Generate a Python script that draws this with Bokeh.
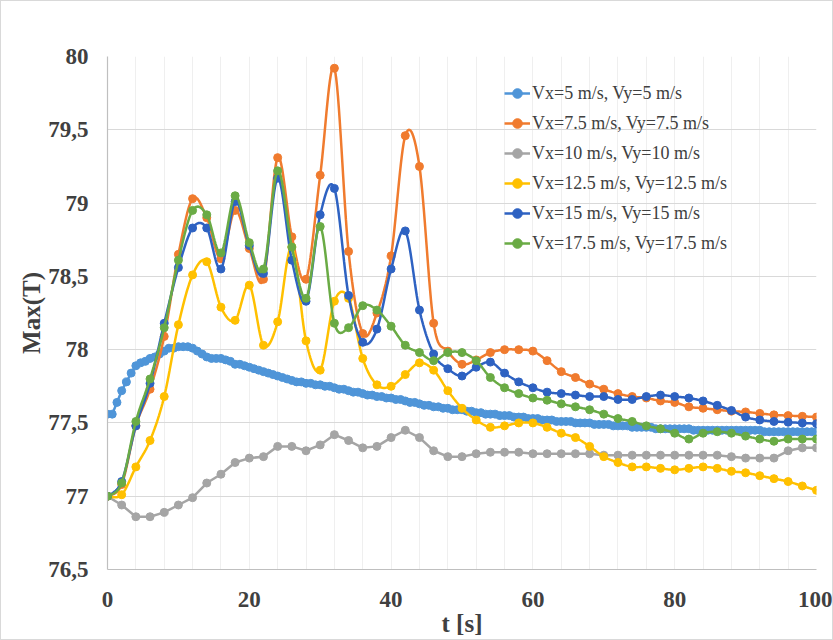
import numpy as np
from bokeh.plotting import figure
from bokeh.models import FixedTicker, Legend, LegendItem, Range1d
from bokeh.embed import file_html
from bokeh.resources import INLINE

# ---------------- data ----------------
t2 = list(range(0, 101, 2))  # samples every 2 s

v5 = [77.56, 77.56, 77.64, 77.72, 77.78, 77.84, 77.89, 77.91, 77.92, 77.94,
      77.95, 77.97, 77.99, 78.01, 78.01, 78.02, 78.02, 78.02, 78.01, 77.99,
      77.97, 77.95, 77.94, 77.94, 77.94, 77.93, 77.92, 77.90, 77.90, 77.89,
      77.88, 77.87, 77.86, 77.85, 77.84, 77.83, 77.82, 77.81, 77.80, 77.79,
      77.78, 77.78, 77.77, 77.77, 77.76, 77.76, 77.75, 77.75, 77.74, 77.73,
      77.73, 77.72, 77.71, 77.71, 77.70, 77.69, 77.69, 77.68, 77.68, 77.67,
      77.67, 77.66, 77.66, 77.65, 77.64, 77.64, 77.63, 77.62, 77.62, 77.61,
      77.61, 77.60, 77.60, 77.59, 77.59, 77.59, 77.58, 77.58, 77.57, 77.57,
      77.56, 77.56, 77.56, 77.55, 77.55, 77.55, 77.54, 77.54, 77.54, 77.53,
      77.53, 77.53, 77.52, 77.52, 77.52, 77.51, 77.51, 77.51, 77.51, 77.50,
      77.50, 77.50, 77.50, 77.49, 77.49, 77.49, 77.49, 77.48, 77.48, 77.48,
      77.48, 77.47, 77.47, 77.47, 77.47, 77.47, 77.46, 77.46, 77.46, 77.46,
      77.46, 77.46, 77.46, 77.46, 77.45, 77.45, 77.45, 77.45, 77.45, 77.45,
      77.45, 77.45, 77.45, 77.45, 77.45, 77.45, 77.45, 77.45, 77.45, 77.44,
      77.44, 77.44, 77.44, 77.44, 77.44, 77.44, 77.44, 77.44, 77.44, 77.44,
      77.44]
t5 = [i * 2.0 / 3.0 for i in range(len(v5))]  # samples every 2/3 s

v75 = [77.00, 77.08, 77.48, 77.73, 78.09, 78.65, 79.03, 78.90, 78.62, 78.95,
       78.69, 78.48, 79.31, 78.77, 78.48, 79.19, 79.92, 78.67, 78.11, 78.25,
       78.64, 79.46, 79.25, 78.18, 77.99, 77.90, 77.93, 77.98, 78.00, 78.00,
       77.99, 77.925, 77.85, 77.81, 77.765, 77.73, 77.70, 77.68, 77.67, 77.65,
       77.64, 77.61, 77.60, 77.59, 77.58, 77.575, 77.565, 77.555, 77.55, 77.545,
       77.54]

v10 = [77.00, 76.94, 76.86, 76.86, 76.89, 76.94, 76.99, 77.09, 77.15, 77.23,
       77.26, 77.27, 77.34, 77.34, 77.31, 77.35, 77.42, 77.38, 77.33, 77.34,
       77.40, 77.45, 77.40, 77.31, 77.27, 77.27, 77.29, 77.30, 77.30, 77.30,
       77.29, 77.29, 77.29, 77.29, 77.29, 77.28, 77.28, 77.28, 77.28, 77.28,
       77.28, 77.28, 77.28, 77.28, 77.27, 77.26, 77.26, 77.26, 77.31, 77.33,
       77.33]

v125 = [77.00, 77.01, 77.20, 77.38, 77.68, 78.17, 78.51, 78.60, 78.29, 78.20,
        78.44, 78.03, 78.19, 78.70, 78.06, 77.86, 78.33, 78.35, 77.94, 77.76,
        77.75, 77.83, 77.91, 77.86, 77.72, 77.60, 77.52, 77.47, 77.48, 77.50,
        77.50, 77.47, 77.43, 77.40, 77.34, 77.27, 77.23, 77.20, 77.20, 77.19,
        77.18, 77.19, 77.20, 77.19, 77.17, 77.16, 77.14, 77.12, 77.10, 77.07,
        77.04]

v15 = [77.00, 77.10, 77.48, 77.77, 78.18, 78.56, 78.83, 78.83, 78.55, 79.01,
       78.71, 78.52, 79.17, 78.61, 78.33, 78.92, 79.10, 78.37, 78.05, 78.14,
       78.55, 78.81, 78.27, 77.97, 77.87, 77.82, 77.88, 77.915, 77.84, 77.78,
       77.74, 77.71, 77.70, 77.69, 77.68, 77.68, 77.66, 77.66, 77.68, 77.69,
       77.68, 77.67, 77.65, 77.62, 77.585, 77.54, 77.52, 77.51, 77.505, 77.50,
       77.495]

v175 = [77.00, 77.09, 77.51, 77.80, 78.15, 78.61, 78.95, 78.92, 78.66, 79.05,
        78.73, 78.55, 79.22, 78.70, 78.35, 78.84, 78.18, 78.15, 78.30, 78.27,
        78.16, 78.03, 77.98, 77.925, 77.98, 77.98, 77.925, 77.81, 77.74, 77.70,
        77.67, 77.655, 77.63, 77.61, 77.59, 77.56, 77.53, 77.51, 77.48, 77.46,
        77.43, 77.39, 77.43, 77.44, 77.43, 77.41, 77.39, 77.375, 77.39, 77.39,
        77.39]

labels = ["Vx=5 m/s, Vy=5 m/s", "Vx=7.5 m/s, Vy=7.5 m/s", "Vx=10 m/s, Vy=10 m/s",
          "Vx=12.5 m/s, Vy=12.5 m/s", "Vx=15 m/s, Vy=15 m/s", "Vx=17.5 m/s, Vy=17.5 m/s"]
colors = ["#4F95D8", "#F07B2E", "#A5A5A5", "#FFC000", "#2E62C2", "#6AAB45"]

x_ticks = [0, 20, 40, 60, 80, 100]
y_ticks = [76.5, 77.0, 77.5, 78.0, 78.5, 79.0, 79.5, 80.0]
y_tick_text = ["76,5", "77", "77,5", "78", "78,5", "79", "79,5", "80"]


def smooth(xs, ys, n=16):
    """Excel-like smoothed line (uniform Catmull-Rom through the points)."""
    xs = np.asarray(xs, float)
    ys = np.asarray(ys, float)
    m = len(xs)
    ox, oy = [], []
    for i in range(m - 1):
        i0 = max(i - 1, 0)
        i3 = min(i + 2, m - 1)
        p0 = np.array([xs[i0], ys[i0]])
        p1 = np.array([xs[i], ys[i]])
        p2 = np.array([xs[i + 1], ys[i + 1]])
        p3 = np.array([xs[i3], ys[i3]])
        for s in np.linspace(0, 1, n, endpoint=False):
            s2, s3 = s * s, s * s * s
            pt = 0.5 * ((2 * p1) + (-p0 + p2) * s + (2 * p0 - 5 * p1 + 4 * p2 - p3) * s2
                        + (-p0 + 3 * p1 - 3 * p2 + p3) * s3)
            ox.append(pt[0])
            oy.append(pt[1])
    ox.append(xs[-1])
    oy.append(ys[-1])
    return ox, oy


p = figure(width=833, height=640, output_backend="svg", toolbar_location=None,
           x_range=Range1d(0, 100), y_range=Range1d(76.5, 80),
           min_border_left=106, min_border_right=18, min_border_top=55,
           min_border_bottom=72)
p.styles = {"border": "1px solid #D9D9D9", "box-sizing": "border-box"}
p.outline_line_color = None
p.background_fill_color = "white"
p.border_fill_color = "white"

# grid
p.xgrid.ticker = FixedTicker(ticks=list(range(0, 101, 4)))
p.xgrid.grid_line_color = "#EFEFEF"
p.xgrid.grid_line_width = 1
p.ygrid.ticker = FixedTicker(ticks=y_ticks)
p.ygrid.grid_line_color = "#D9D9D9"
p.ygrid.grid_line_width = 1.2

# axes
font = "Liberation Serif"
p.xaxis.ticker = FixedTicker(ticks=x_ticks)
p.yaxis.ticker = FixedTicker(ticks=y_ticks)
p.yaxis.major_label_overrides = {k: v for k, v in zip(y_ticks, y_tick_text)}
for ax in (p.xaxis[0], p.yaxis[0]):
    ax.major_tick_line_color = None
    ax.minor_tick_line_color = None
    ax.axis_line_color = "#BFBFBF"
    ax.axis_line_width = 1.2
    ax.major_label_text_font = font
    ax.major_label_text_font_style = "bold"
    ax.major_label_text_font_size = "23px"
    ax.major_label_text_color = "#404040"
    ax.axis_label_text_font = font
    ax.axis_label_text_font_style = "bold"
    ax.axis_label_text_font_size = "25px"
    ax.axis_label_text_color = "#404040"
p.xaxis.axis_label = "t [s]"
p.yaxis.axis_label = "Max(T)"
p.xaxis.major_label_standoff = 16
p.xaxis.axis_label_standoff = 0
p.yaxis.major_label_standoff = 13
p.yaxis.axis_label_standoff = 0

series = [
    (t5, v5, False, 8),
    (t2, v75, True, 8),
    (t2, v10, False, 8),
    (t2, v125, True, 8),
    (t2, v15, True, 8),
    (t2, v175, True, 8),
]

items = []
for (xs, ys, sm, ms), col, lab in zip(series, colors, labels):
    if sm:
        lx, ly = smooth(xs, ys)
    else:
        lx, ly = xs, ys
    lr = p.line(lx, ly, line_color=col, line_width=2.5)
    sr = p.scatter(xs, ys, size=ms, fill_color=col, line_color=col, marker="circle")
    items.append(LegendItem(label=lab, renderers=[lr, sr]))

legend = Legend(items=items, location=(392, 309))
legend.background_fill_alpha = 0
legend.border_line_alpha = 0
legend.label_text_font = font
legend.label_text_font_size = "18px"
legend.label_text_color = "#404040"
legend.glyph_width = 26
legend.glyph_height = 24
legend.label_height = 24
legend.spacing = 6
legend.padding = 5
legend.label_standoff = 2
legend.margin = 0
p.add_layout(legend, "center")

open("out.html", "w").write(file_html(p, INLINE))
